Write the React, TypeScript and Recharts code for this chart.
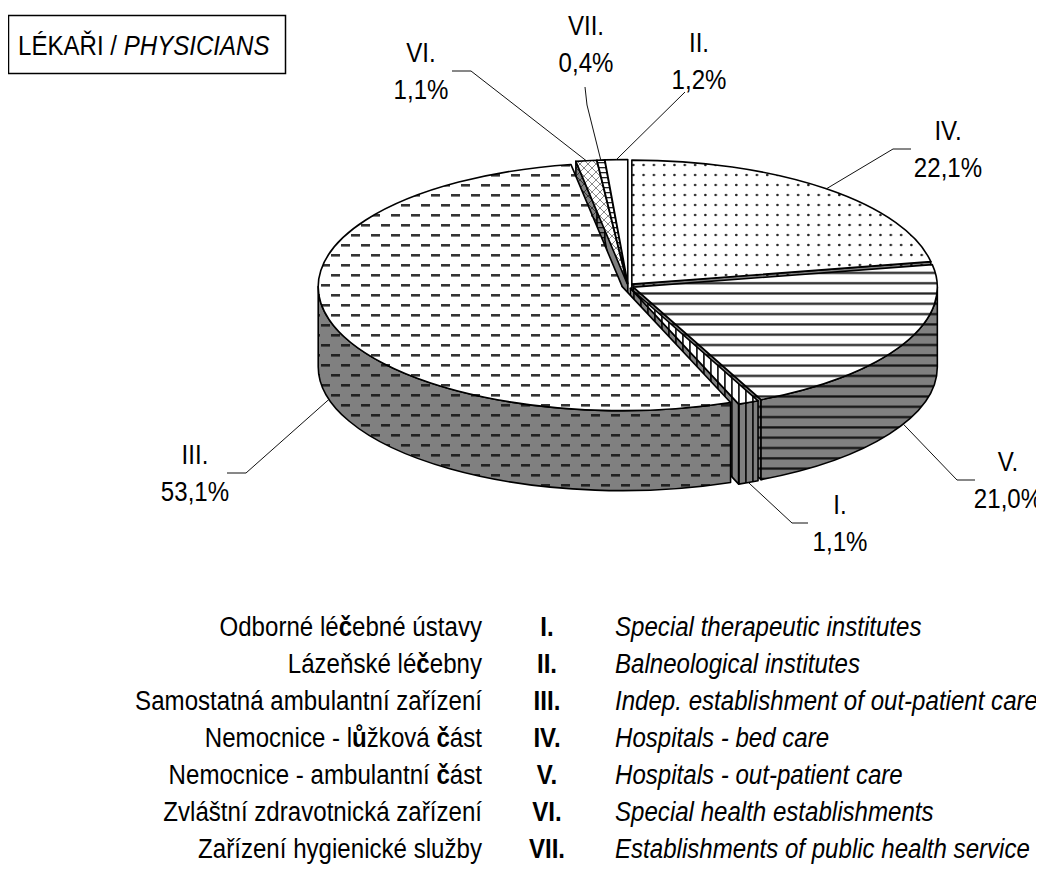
import React from "react";
import { PieChart, Pie } from "recharts";

// slices clockwise from 12 o'clock, as they sit on the pie
const sliceCodes = ["IV.", "V.", "I.", "III.", "VI.", "VII.", "II."];
const sliceShares = [22.1, 21.0, 1.1, 53.1, 1.1, 0.4, 1.2];
const sliceLabels = ["22,1%", "21,0%", "1,1%", "53,1%", "1,1%", "0,4%", "1,2%"];

const legendCodes = ["I.", "II.", "III.", "IV.", "V.", "VI.", "VII."];
const legendCz = [
  "Odborné léčebné ústavy",
  "Lázeňské léčebny",
  "Samostatná ambulantní zařízení",
  "Nemocnice - lůžková část",
  "Nemocnice - ambulantní část",
  "Zvláštní zdravotnická zařízení",
  "Zařízení hygienické služby",
];
const legendEn = [
  "Special therapeutic institutes",
  "Balneological institutes",
  "Indep. establishment of out-patient care",
  "Hospitals - bed care",
  "Hospitals - out-patient care",
  "Special health establishments",
  "Establishments of public health service",
];

const data = sliceCodes.map((code, i) => ({
  code,
  value: sliceShares[i],
  text: sliceLabels[i],
}));

// no narrow font installed: Arial-metric font squeezed to "narrow" width
const FONT = '"Liberation Sans", Arial, sans-serif';
const NARROW = 0.86;
const FS = 28;
const CX = 623;
const CY = 281;
const RX = 304;
const RY = 124;
const DEPTH = 80;
const EXPLODE = 6;
const TILT = RY / RX;
const GRAY = "#808080";

const fills: Record<string, { top: string; side: string }> = {
  "IV.": { top: "url(#dotsTop)", side: "url(#dotsSide)" },
  "V.": { top: "url(#linesHTop)", side: "url(#linesHSide)" },
  "I.": { top: "url(#linesVTop)", side: "url(#linesVSide)" },
  "III.": { top: "url(#dashTop)", side: "url(#dashSide)" },
  "VI.": { top: "url(#hatchTop)", side: "url(#hatchSide)" },
  "VII.": { top: "url(#denseTop)", side: "url(#denseSide)" },
  "II.": { top: "#ffffff", side: GRAY },
};

// label block centre, leader elbow and stub end, relative to the pie centre
const labelLayout: Record<
  string,
  { text: [number, number]; elbow: [number, number]; stub: [number, number] }
> = {
  "IV.": { text: [320, -137], elbow: [265, -137], stub: [283, -137] },
  "V.": { text: [380, 194], elbow: [329, 194], stub: [347, 194] },
  "I.": { text: [212, 237], elbow: [164, 237], stub: [180, 237] },
  "III.": { text: [-433, 187], elbow: [-382, 187], stub: [-401, 187] },
  "VI.": { text: [-207, -215], elbow: [-157, -215], stub: [-176, -215] },
  "VII.": { text: [-42, -242], elbow: [-41, -181], stub: [-43, -199] },
  "II.": { text: [71, -225], elbow: [57, -194], stub: [57, -194] },
};

const rad = (a: number) => (a * Math.PI) / 180;
const codeOf = (p: any) => (p.payload && p.payload.code) || p.code;

function NText(props: {
  x: number;
  y: number;
  anchor?: "start" | "middle" | "end";
  bold?: boolean;
  italic?: boolean;
  children: React.ReactNode;
}) {
  return (
    <g transform={`translate(${props.x},${props.y}) scale(${NARROW},1)`}>
      <text
        x={0}
        y={0}
        textAnchor={props.anchor || "start"}
        fontFamily={FONT}
        fontSize={FS}
        fontWeight={props.bold ? "bold" : "normal"}
        fontStyle={props.italic ? "italic" : "normal"}
        fill="#000"
      >
        {props.children}
      </text>
    </g>
  );
}

function geom(p: any) {
  const rx = p.outerRadius;
  const ry = rx * TILT;
  const hi = Math.max(p.startAngle, p.endAngle);
  const lo = Math.min(p.startAngle, p.endAngle);
  const mid = (hi + lo) / 2;
  const x0 = p.cx + EXPLODE * Math.cos(rad(mid));
  const y0 = p.cy - EXPLODE * TILT * Math.sin(rad(mid));
  const at = (a: number, dz = 0): [number, number] => [
    x0 + rx * Math.cos(rad(a)),
    y0 - ry * Math.sin(rad(a)) + dz,
  ];
  return { rx, ry, hi, lo, mid, x0, y0, at };
}

function CutFaces(p: any) {
  const g = geom(p);
  const faces: number[] = [];
  if (Math.cos(rad(g.hi)) < -0.001) faces.push(g.hi);
  if (Math.cos(rad(g.lo)) > 0.001) faces.push(g.lo);
  return (
    <g>
      {faces.map((a) => {
        const [x, y] = g.at(a);
        const d = `M${g.x0},${g.y0}L${x},${y}L${x},${y + DEPTH}L${g.x0},${g.y0 + DEPTH}Z`;
        return (
          <path
            key={a}
            d={d}
            fill={fills[codeOf(p)].side}
            stroke="#000"
            strokeWidth={1.6}
            strokeLinejoin="round"
          />
        );
      })}
    </g>
  );
}

function OuterWall(p: any) {
  const g = geom(p);
  const parts: [number, number][] = [];
  for (let k = -2; k <= 2; k++) {
    const hi = Math.min(g.hi, 360 * k);
    const lo = Math.max(g.lo, 360 * k - 180);
    if (hi - lo > 0.01) parts.push([hi, lo]);
  }
  return (
    <g>
      {parts.map(([hi, lo]) => {
        const [ax, ay] = g.at(hi);
        const [bx, by] = g.at(lo);
        const large = hi - lo > 180 ? 1 : 0;
        const d =
          `M${ax},${ay}A${g.rx},${g.ry} 0 ${large} 1 ${bx},${by}` +
          `L${bx},${by + DEPTH}A${g.rx},${g.ry} 0 ${large} 0 ${ax},${ay + DEPTH}Z`;
        return (
          <path
            key={hi}
            d={d}
            fill={fills[codeOf(p)].side}
            stroke="#000"
            strokeWidth={1.6}
            strokeLinejoin="round"
          />
        );
      })}
    </g>
  );
}

function TopFace(p: any) {
  const g = geom(p);
  const [x1, y1] = g.at(g.hi);
  const [x2, y2] = g.at(g.lo);
  const large = g.hi - g.lo > 180 ? 1 : 0;
  const d = `M${g.x0},${g.y0}L${x1},${y1}A${g.rx},${g.ry} 0 ${large} 1 ${x2},${y2}Z`;
  return (
    <path
      d={d}
      fill={fills[codeOf(p)].top}
      stroke="#000"
      strokeWidth={1.6}
      strokeLinejoin="round"
    />
  );
}

function SliceLabel(p: any) {
  const code = codeOf(p);
  const L = labelLayout[code];
  const g = geom(p);
  const front = Math.sin(rad(g.mid)) < 0;
  const [ax, ay] = g.at(g.mid, front ? DEPTH : 0);
  const pts = [
    [ax, ay],
    [p.cx + L.elbow[0], p.cy + L.elbow[1]],
    [p.cx + L.stub[0], p.cy + L.stub[1]],
  ]
    .map((q) => q.join(","))
    .join(" ");
  const tx = p.cx + L.text[0];
  const ty = p.cy + L.text[1];
  const text = (p.payload && p.payload.text) || p.text;
  return (
    <g>
      <polyline points={pts} fill="none" stroke="#111" strokeWidth={1} />
      <NText x={tx} y={ty - 9} anchor="middle">
        {code}
      </NText>
      <NText x={tx} y={ty + 28} anchor="middle">
        {text}
      </NText>
    </g>
  );
}

// č and ů come out heavier in the original
function czText(s: string) {
  return s.split("").map((ch, i) =>
    ch === "č" || ch === "ů" ? (
      <tspan key={i} fontWeight="bold">
        {ch}
      </tspan>
    ) : (
      ch
    )
  );
}

export default function App() {
  const pieProps = {
    data,
    dataKey: "value",
    cx: CX,
    cy: CY,
    outerRadius: RX,
    startAngle: 90,
    endAngle: -270,
    stroke: "none",
    isAnimationActive: false,
  };
  return (
    <div style={{ position: "relative", width: 1044, height: 896, margin: -8, background: "#fff" }}>
      <svg width={0} height={0} style={{ position: "absolute" }}>
        <defs>
          <pattern id="dotsTop" patternUnits="userSpaceOnUse" width={10.3} height={10}>
            <rect width={10.3} height={10} fill="#fff" />
            <circle cx={5} cy={5} r={1.3} fill="#222" />
          </pattern>
          <pattern id="dotsSide" patternUnits="userSpaceOnUse" width={10.3} height={10}>
            <rect width={10.3} height={10} fill={GRAY} />
            <circle cx={5} cy={5} r={1.3} fill="#111" />
          </pattern>
          <pattern id="linesHTop" patternUnits="userSpaceOnUse" width={10} height={10.3}>
            <rect width={10} height={10.3} fill="#fff" />
            <rect y={4} width={10} height={2.2} fill="#222" />
          </pattern>
          <pattern id="linesHSide" patternUnits="userSpaceOnUse" width={10} height={10.3}>
            <rect width={10} height={10.3} fill={GRAY} />
            <rect y={4} width={10} height={2.2} fill="#111" />
          </pattern>
          <pattern id="linesVTop" patternUnits="userSpaceOnUse" width={7} height={10}>
            <rect width={7} height={10} fill="#fff" />
            <rect x={3} width={1.8} height={10} fill="#222" />
          </pattern>
          <pattern id="linesVSide" patternUnits="userSpaceOnUse" width={7} height={10}>
            <rect width={7} height={10} fill={GRAY} />
            <rect x={3} width={1.8} height={10} fill="#111" />
          </pattern>
          <pattern id="dashTop" patternUnits="userSpaceOnUse" width={20} height={20}>
            <rect width={20} height={20} fill="#fff" />
            <rect x={1} y={4} width={9} height={2.6} fill="#333" />
            <rect x={11} y={14} width={9} height={2.6} fill="#333" />
          </pattern>
          <pattern id="dashSide" patternUnits="userSpaceOnUse" width={20} height={20}>
            <rect width={20} height={20} fill={GRAY} />
            <rect x={1} y={4} width={9} height={2.6} fill="#222" />
            <rect x={11} y={14} width={9} height={2.6} fill="#222" />
          </pattern>
          <pattern id="hatchTop" patternUnits="userSpaceOnUse" width={8} height={8}>
            <rect width={8} height={8} fill="#fff" />
            <path d="M0,0L8,8M8,0L0,8" stroke="#888" strokeWidth={1} />
          </pattern>
          <pattern id="hatchSide" patternUnits="userSpaceOnUse" width={8} height={8}>
            <rect width={8} height={8} fill={GRAY} />
            <path d="M0,0L8,8M8,0L0,8" stroke="#333" strokeWidth={1} />
          </pattern>
          <pattern id="denseTop" patternUnits="userSpaceOnUse" width={6} height={5}>
            <rect width={6} height={5} fill="#fff" />
            <rect y={2} width={6} height={1.3} fill="#222" />
          </pattern>
          <pattern id="denseSide" patternUnits="userSpaceOnUse" width={6} height={5}>
            <rect width={6} height={5} fill={GRAY} />
            <rect y={2} width={6} height={1.3} fill="#111" />
          </pattern>
        </defs>
      </svg>
      <PieChart width={1044} height={896}>
        <Pie {...pieProps} shape={CutFaces} />
        <Pie {...pieProps} shape={OuterWall} />
        <Pie {...pieProps} shape={TopFace} label={SliceLabel} labelLine={false} />
      </PieChart>
      <svg
        width={1044}
        height={896}
        style={{ position: "absolute", left: 0, top: 0, pointerEvents: "none" }}
      >
        <rect x={8.5} y={15.5} width={277} height={58} fill="none" stroke="#000" strokeWidth={1.5} />
        <NText x={18} y={55}>
          LÉKAŘI / <tspan fontStyle="italic">PHYSICIANS</tspan>
        </NText>
        {legendCodes.map((code, i) => {
          const y = 636 + 37 * i;
          return (
            <g key={code}>
              <NText x={482} y={y} anchor="end">
                {czText(legendCz[i])}
              </NText>
              <NText x={547} y={y} anchor="middle" bold>
                {code}
              </NText>
              <NText x={615} y={y} italic>
                {legendEn[i]}
              </NText>
            </g>
          );
        })}
      </svg>
    </div>
  );
}
